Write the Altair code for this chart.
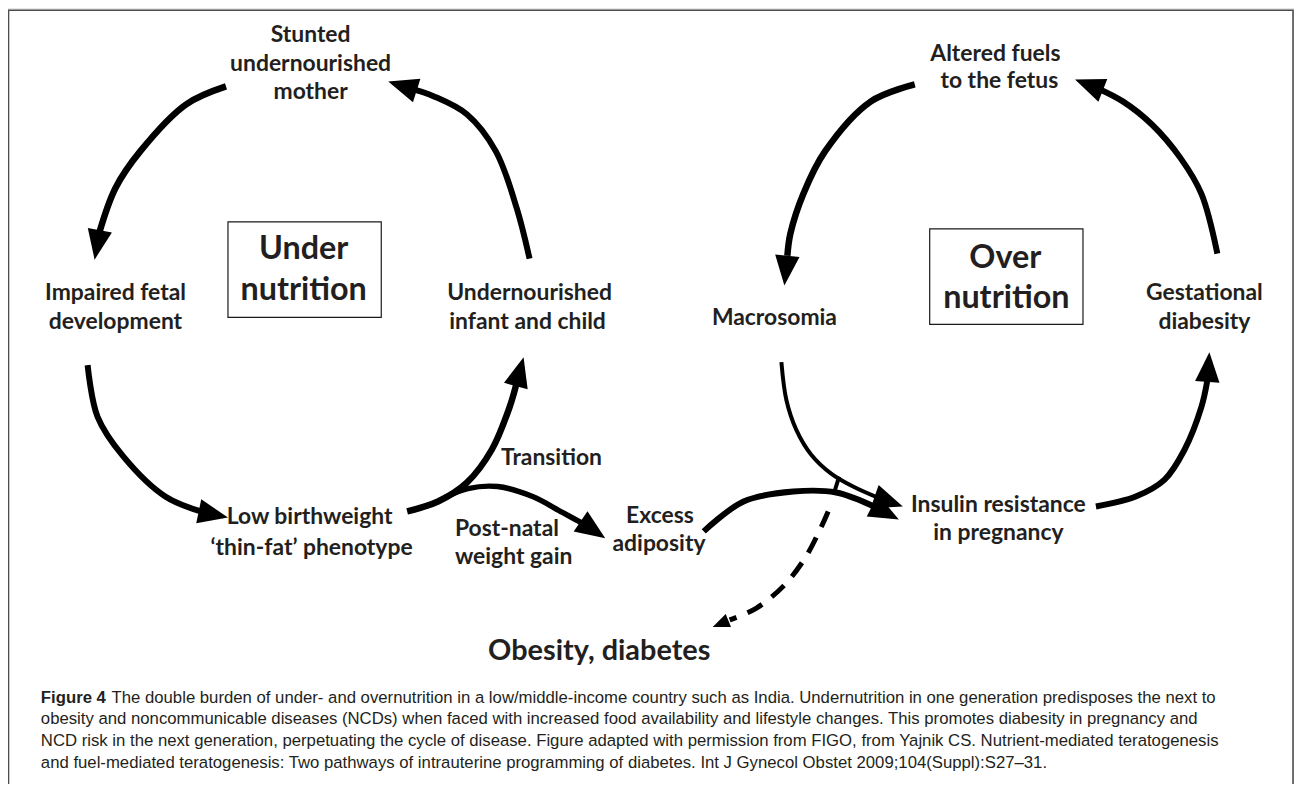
import math
import altair as alt
import pandas as pd

# ---------------- data ----------------
node_text = ["Stunted", "undernourished", "mother",
             "Impaired fetal", "development",
             "Undernourished", "infant and child",
             "Low birthweight", "\u2018thin-fat\u2019 phenotype",
             "Transition",
             "Excess", "adiposity",
             "Altered fuels", "to the fetus",
             "Macrosomia",
             "Gestational", "diabesity",
             "Insulin resistance", "in pregnancy"]
node_x = [312, 312, 312, 116, 116, 532, 530, 311, 313, 554, 663, 662,
          1000, 1004, 778, 1210, 1210, 1003, 1003]
node_y = [33, 62, 91, 293, 322, 293, 322, 518, 549, 458, 517, 545,
          52, 80, 318, 293, 322, 506, 534]

left_text = ["Post-natal", "weight gain"]
left_x = [457, 457]
left_y = [530, 558]

box_text = ["Under", "nutrition", "Over", "nutrition"]
box_tx = [305, 305, 1010, 1011]
box_ty = [248, 290, 257, 298]
box_x1 = [229, 934]
box_x2 = [383, 1088]
box_y1 = [221, 228]
box_y2 = [317, 324]

outcome_text = ["Obesity, diabetes"]
outcome_x = [602]
outcome_y = [652]

# arrows: waypoints (ending at arrow-head base), head tip
arrow_names = ["A", "B", "C", "D", "E", "F", "G", "H", "I", "K"]
arrow_pts = {
    "A": [(227, 85), (187, 103), (141, 150), (116, 187), (100, 231)],
    "B": [(532, 258), (519, 207), (498, 150), (469, 113), (436, 95), (412, 87)],
    "C": [(88, 365), (98, 417), (124, 457), (166, 497), (205, 513)],
    "D": [(409, 512), (440, 502), (469, 483), (494, 450), (512, 407), (519, 383)],
    "E": [(447, 498), (470, 489), (500, 487), (535, 497), (565, 513), (589, 526)],
    "F": [(919, 83), (875, 100), (829, 150), (807, 193), (794, 233), (791, 255)],
    "G": [(1223, 253), (1207, 193), (1186, 157), (1157, 123), (1128, 100), (1103, 87)],
    "H": [(785, 362), (790, 400), (800, 430), (815, 455), (835, 474), (857, 487), (884, 499)],
    "I": [(707, 532), (747, 502), (797, 492), (840, 493), (880, 508)],
    "K": [(1101, 507), (1141, 497), (1170, 480), (1190, 450), (1207, 407), (1213, 380)],
}
arrow_tip = {"A": (95, 259), "B": (390, 80), "C": (229, 518), "D": (526, 357),
             "E": (608, 539), "F": (788, 285), "G": (1080, 78), "H": (907, 507),
             "I": (903, 520), "K": (1215, 352)}
arrow_width = {"A": 6.5, "B": 6, "C": 6, "D": 6.5, "E": 5.5, "F": 6.5, "G": 6,
               "H": 4, "I": 6, "K": 6}

stub_pts = [(838, 493), (843, 477)]
dash_pts = [(832, 512), (823, 532), (808, 560), (787, 587), (760, 609), (733, 621)]
dash_tip = (716, 628)

caption_bold = "Figure 4"
caption_lines = [
    "The double burden of under- and overnutrition in a low/middle-income country such as India. Undernutrition in one generation predisposes the next to",
    "obesity and noncommunicable diseases (NCDs) when faced with increased food availability and lifestyle changes. This promotes diabesity in pregnancy and",
    "NCD risk in the next generation, perpetuating the cycle of disease. Figure adapted with permission from FIGO, from Yajnik CS. Nutrient-mediated teratogenesis",
    "and fuel-mediated teratogenesis: Two pathways of intrauterine programming of diabetes. Int J Gynecol Obstet 2009;104(Suppl):S27\u201331.",
]
cap_x = 41
cap_bold_w = 71
cap_y = [699, 721, 743, 765]

# ---------------- scales ----------------
W, H = 1292, 776
xs = alt.Scale(domain=[8, 8 + W], range=[0, W], nice=False, zero=False)
ys = alt.Scale(domain=[8, 8 + H], range=[0, H], nice=False, zero=False)

def X(f="x"):
    return alt.X(f"{f}:Q", scale=xs, axis=None)

def Y(f="y"):
    return alt.Y(f"{f}:Q", scale=ys, axis=None)

FONT = "Lato"
TXT = "#231f20"

# panel
panel = alt.Chart(pd.DataFrame({"x": [8.5], "x2": [1299], "y": [8.5], "y2": [800]})).mark_rect(
    fill="white", stroke="#4d4d4d", strokeWidth=1.6
).encode(x=X(), x2="x2:Q", y=Y(), y2="y2:Q")

# boxes
boxes = alt.Chart(pd.DataFrame({"x": box_x1, "x2": box_x2, "y": box_y1, "y2": box_y2})).mark_rect(
    fill="white", stroke="#1a1a1a", strokeWidth=1.2
).encode(x=X(), x2="x2:Q", y=Y(), y2="y2:Q")

# lines
rows = []
for n in arrow_names:
    for i, (px, py) in enumerate(arrow_pts[n]):
        rows.append({"arrow": n, "i": i, "x": px, "y": py, "w": arrow_width[n]})
line_df = pd.DataFrame(rows)

lines = alt.Chart(line_df).mark_line(
    interpolate="catmull-rom", color="black", strokeCap="butt"
).encode(
    x=X(), y=Y(), detail="arrow:N", order=alt.Order("i:Q"),
    strokeWidth=alt.StrokeWidth("w:Q", scale=None, legend=None),
)

stub = alt.Chart(pd.DataFrame({"x": [p[0] for p in stub_pts], "y": [p[1] for p in stub_pts],
                               "i": [0, 1]})).mark_line(
    color="black", strokeWidth=4, strokeCap="butt"
).encode(x=X(), y=Y(), order=alt.Order("i:Q"))

dash = alt.Chart(pd.DataFrame({"x": [p[0] for p in dash_pts], "y": [p[1] for p in dash_pts],
                               "i": list(range(len(dash_pts)))})).mark_line(
    interpolate="catmull-rom", color="black", strokeWidth=5, strokeDash=[17, 12], strokeCap="butt"
).encode(x=X(), y=Y(), order=alt.Order("i:Q"))

# heads
head_rows = []
def add_head(base, tip, length):
    dx, dy = tip[0] - base[0], tip[1] - base[1]
    ang = math.degrees(math.atan2(dx, -dy)) % 360
    head_rows.append({"x": tip[0], "y": tip[1], "angle": ang, "s": length ** 2})

for n in arrow_names:
    base = arrow_pts[n][-1]
    tip = arrow_tip[n]
    add_head(base, tip, 30)
add_head(dash_pts[-1], dash_tip, 17)
head_df = pd.DataFrame(head_rows)

heads = alt.Chart(head_df).mark_point(
    shape="M0,0L0.82,2L-0.82,2Z", filled=True, color="black", opacity=1, strokeWidth=0
).encode(
    x=X(), y=Y(),
    angle=alt.Angle("angle:Q", scale=None),
    size=alt.Size("s:Q", scale=None, legend=None),
)

# texts
nodes = alt.Chart(pd.DataFrame({"t": node_text, "x": node_x, "y": node_y})).mark_text(
    font=FONT, fontSize=23, fontWeight="bold", color=TXT, align="center", baseline="middle"
).encode(x=X(), y=Y(), text="t:N")

lefts = alt.Chart(pd.DataFrame({"t": left_text, "x": left_x, "y": left_y})).mark_text(
    font=FONT, fontSize=23, fontWeight="bold", color=TXT, align="left", baseline="middle"
).encode(x=X(), y=Y(), text="t:N")

box_titles = alt.Chart(pd.DataFrame({"t": box_text, "x": box_tx, "y": box_ty})).mark_text(
    font=FONT, fontSize=32.5, fontWeight="bold", color=TXT, align="center", baseline="middle"
).encode(x=X(), y=Y(), text="t:N")

outcome = alt.Chart(pd.DataFrame({"t": outcome_text, "x": outcome_x, "y": outcome_y})).mark_text(
    font=FONT, fontSize=29, fontWeight="bold", color=TXT, align="center", baseline="middle"
).encode(x=X(), y=Y(), text="t:N")

cap_b = alt.Chart(pd.DataFrame({"t": [caption_bold], "x": [cap_x], "y": [cap_y[0]]})).mark_text(
    font="Liberation Sans", fontSize=16.8, fontWeight="bold", color="#231f20", align="left", baseline="middle"
).encode(x=X(), y=Y(), text="t:N")

cap_xs = [cap_x + cap_bold_w] + [cap_x] * 3
cap = alt.Chart(pd.DataFrame({"t": caption_lines, "x": cap_xs, "y": cap_y})).mark_text(
    font="Liberation Sans", fontSize=16.8, color="#231f20", align="left", baseline="middle"
).encode(x=X(), y=Y(), text="t:N")

chart = alt.layer(
    panel, boxes, lines, stub, dash, heads, nodes, lefts, box_titles, outcome, cap_b, cap
).properties(
    width=W, height=H, padding=0, background="#e6e7e8",
    autosize=alt.AutoSizeParams(type="none"),
).configure_view(stroke=None)

chart.save("out.html", embed_options={"renderer": "svg", "actions": False})
